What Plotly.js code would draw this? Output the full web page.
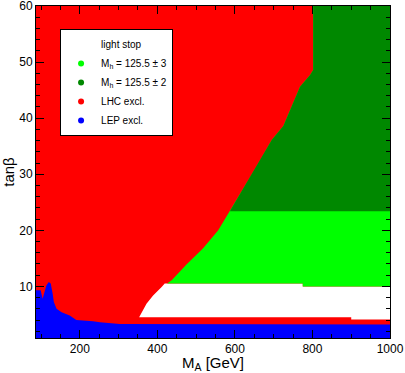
<!DOCTYPE html>
<html>
<head>
<meta charset="utf-8">
<script src="https://cdn.plot.ly/plotly-3.0.1.min.js"></script>
<style>
  body { margin: 0; padding: 0; background: #fff; }
  #chart { width: 405px; height: 373px; }
</style>
</head>
<body>
<div id="chart"></div>
<script>
// axis limits
let xRange = [87, 1000];
let yRange = [0.8, 60];

// LHC excl. / allowed boundary (red edge towards green)
let edgeM  = [425, 437, 475, 518, 557, 587, 604, 634, 665, 695, 725, 750, 768, 794, 802, 802];
let edgeTb = [10.5, 11.1, 13.9, 16.8, 20.0, 23.4, 25.4, 28.9, 32.5, 36.1, 38.6, 42.6, 45.6, 47.7, 48.6, 60];

// lower edge of the green points (top of the empty band)
let greenLowM  = [425, 775, 775, 1000];
let greenLowTb = [10.5, 10.5, 10.0, 10.0];

// left edge of the empty band
let gapLeftM  = [419, 411, 389, 372, 359, 353];
let gapLeftTb = [10.5, 9.9, 8.4, 6.9, 5.4, 4.5];

// top of the red strip below the empty band
let stripM  = [353, 900, 900, 1000];
let stripTb = [4.5, 4.5, 4.1, 4.1];

// M_h = 125.5 +- 2 starts here
let darkGreenTb = 23.4;

// LEP excl. upper edge
let lepM  = [87, 99, 104, 114, 120, 125, 130, 133, 140, 153, 174, 191, 234, 252, 303, 1000];
let lepTb = [9.3, 9.3, 7.8, 10.2, 10.8, 10.5, 8.7, 7.2, 6.0, 5.4, 4.8, 4.0, 3.8, 3.6, 3.3, 3.2];

let legendNames = ['light stop', 'M<sub>h</sub> = 125.5 ± 3', 'M<sub>h</sub> = 125.5 ± 2', 'LHC excl.', 'LEP excl.'];
let legendColors = ['rgba(0,0,0,0)', '#00ff00', '#008800', '#ff0000', '#0000ff'];

function rev(a) { return a.slice().reverse(); }

// red: everything except the empty band cut in from the right
let redX = [xRange[0], xRange[1], xRange[1]]
    .concat(rev(greenLowM)).concat(gapLeftM).concat(stripM)
    .concat([xRange[1], xRange[0]]);
let redY = [yRange[1], yRange[1], 10.0]
    .concat(rev(greenLowTb)).concat(gapLeftTb).concat(stripTb)
    .concat([yRange[0], yRange[0]]);

// light green: right of the edge, drawn under the dark green
let lightX = edgeM.concat([xRange[1], xRange[1]]).concat(rev(greenLowM));
let lightY = edgeTb.concat([yRange[1], 10.0]).concat(rev(greenLowTb));

// dark green: right of the edge above darkGreenTb
let k = edgeTb.indexOf(darkGreenTb);
let darkX = edgeM.slice(k).concat([xRange[1], xRange[1]]);
let darkY = edgeTb.slice(k).concat([yRange[1], darkGreenTb]);

let blueX = lepM.concat([xRange[1], xRange[0]]);
let blueY = lepTb.concat([yRange[0], yRange[0]]);

function area(x, y, color) {
    return {
        x: x, y: y,
        mode: 'lines',
        fill: 'toself',
        fillcolor: color,
        line: {width: 0, color: color},
        hoverinfo: 'skip',
        showlegend: false
    };
}

let traces = [
    area(redX, redY, '#ff0000'),
    area(lightX, lightY, '#00ff00'),
    area(darkX, darkY, '#008800'),
    area(blueX, blueY, '#0000ff')
];

for (let i = 0; i < legendNames.length; i++) {
    traces.push({
        x: [null], y: [null],
        mode: 'markers',
        name: legendNames[i],
        marker: {color: legendColors[i], size: 6}
    });
}

// empty trace so the frame subplot x2y2 exists
traces.push({
    x: [null], y: [null],
    xaxis: 'x2', yaxis: 'y2',
    mode: 'markers',
    hoverinfo: 'skip',
    showlegend: false
});

let font = 'Liberation Sans, Arial, sans-serif';

// fills cover the axes of their own subplot, so the frame and ticks
// are drawn by a second subplot on top with the same ranges
let layout = {
    width: 405,
    height: 373,
    margin: {l: 36, r: 15, t: 6, b: 35},
    paper_bgcolor: '#ffffff',
    plot_bgcolor: 'rgba(0,0,0,0)',
    font: {family: font, size: 12, color: '#000'},
    showlegend: true,
    legend: {
        x: 0.068, y: 0.931,
        xanchor: 'left', yanchor: 'top',
        bgcolor: '#ffffff',
        bordercolor: '#000',
        borderwidth: 1,
        font: {family: font, size: 10, color: '#000'},
        traceorder: 'normal'
    },
    xaxis: {range: xRange, visible: false},
    yaxis: {range: yRange, visible: false},
    xaxis2: {
        range: xRange,
        anchor: 'y2',
        title: {text: 'M<sub>A</sub> [GeV]', font: {size: 15}, standoff: 6},
        tickmode: 'linear', tick0: 0, dtick: 200,
        ticks: 'inside', ticklen: 8, tickwidth: 1, tickcolor: 'black',
        showline: true, linecolor: 'black', linewidth: 1, mirror: 'ticks',
        showgrid: false, zeroline: false,
        ticklabeloverflow: 'allow',
        minor: {ticks: 'inside', dtick: 50, ticklen: 4, tickcolor: 'black', showgrid: false}
    },
    yaxis2: {
        range: yRange,
        anchor: 'x2',
        title: {text: 'tanβ', font: {size: 15}, standoff: 6},
        tickmode: 'linear', tick0: 0, dtick: 10,
        ticks: 'inside', ticklen: 8, tickwidth: 1, tickcolor: 'black',
        showline: true, linecolor: 'black', linewidth: 1, mirror: 'ticks',
        showgrid: false, zeroline: false,
        ticklabeloverflow: 'allow',
        minor: {ticks: 'inside', dtick: 2, ticklen: 4, tickcolor: 'black', showgrid: false}
    }
};

Plotly.newPlot('chart', traces, layout, {displayModeBar: false});
</script>
</body>
</html>
